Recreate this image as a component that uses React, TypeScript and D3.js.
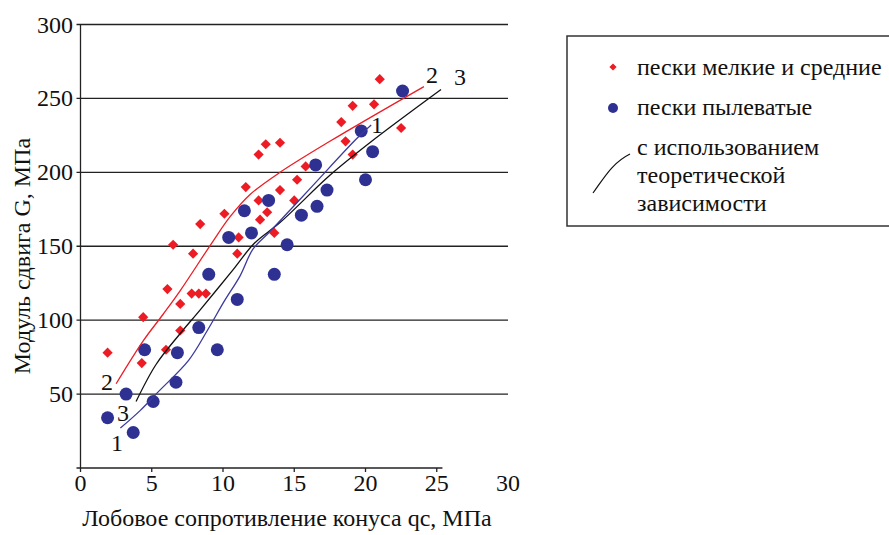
import React from "react";
import * as d3 from "d3";

// песок мелкий и средний (red diamonds)
const sandX = [1.9, 4.3, 4.4, 6.0, 6.1, 6.5, 7.0, 7.0, 7.9, 7.8, 8.3, 8.8, 8.4, 10.1, 11.0, 11.1, 11.6, 12.5, 13.0, 14.0, 12.5, 12.6, 13.1, 13.6, 14.0, 15.0, 15.2, 15.8, 18.3, 18.6, 19.1, 19.1, 20.6, 21.0, 22.5];
const sandG = [78, 71, 102, 80, 121, 151, 111, 93, 145, 118, 118, 118, 165, 172, 145, 156, 190, 212, 219, 220, 181, 168, 173, 159, 188, 181, 195, 204, 234, 221, 245, 212, 246, 263, 230];

// песок пылеватый (blue circles)
const siltX = [1.9, 3.2, 3.7, 4.5, 5.1, 6.7, 6.8, 8.3, 9.0, 9.6, 10.4, 11.0, 11.5, 12.0, 13.2, 13.6, 14.5, 15.5, 16.5, 16.6, 17.3, 19.7, 20.0, 20.5, 22.6];
const siltG = [34, 50, 24, 80, 45, 58, 78, 95, 131, 80, 156, 114, 174, 159, 181, 131, 151, 171, 205, 177, 188, 228, 195, 214, 255];

// теоретические кривые
const curve1X = [2.8, 4.2, 5.4, 7.6, 8.9, 10.1, 11.2, 12.1, 13.3, 16.3, 19.3, 20.4];
const curve1G = [27, 39, 51, 73, 93, 113, 130, 148, 160, 191, 222, 232];
const curve2X = [2.5, 4.4, 5.8, 7.0, 9.2, 10.5, 11.9, 14.0, 17.5, 24.1];
const curve2G = [57, 86, 104, 120, 152, 170, 185, 200, 221, 258];
const curve3X = [3.9, 5.3, 7.0, 8.4, 10.7, 12.2, 14.0, 17.5, 20.3, 25.3];
const curve3G = [45, 70, 91, 107, 134, 152, 166, 198, 220, 256];

const xTicks = [0, 5, 10, 15, 20, 25, 30];
const yTicks = [50, 100, 150, 200, 250, 300];

const RED = "#ed1c24";
const BLUE = "#2e3192";
const FONT = '"Liberation Serif", "DejaVu Serif", serif';

export default function App() {
  const width = 889;
  const height = 535;
  const x = d3.scaleLinear().domain([0, 30]).range([80.5, 508]);
  const y = d3.scaleLinear().domain([0, 300]).range([468, 24.5]);

  const line = d3
    .line<[number, number]>()
    .x((d) => x(d[0]))
    .y((d) => y(d[1]))
    .curve(d3.curveCatmullRom.alpha(0.5));

  const zip = (a: number[], b: number[]) => a.map((v, i) => [v, b[i]] as [number, number]);
  const diamond = d3.symbol().type(d3.symbolSquare).size(52)();
  const diamondSmall = d3.symbol().type(d3.symbolSquare).size(26)();

  return (
    <svg
      width={width}
      height={height}
      style={{ position: "absolute", left: 0, top: 0, background: "white", fontFamily: FONT }}
    >
      {/* grid */}
      <g>
        {yTicks.map((t) => (
          <line key={t} x1={x(0) - 4} x2={x(30)} y1={y(t)} y2={y(t)} stroke="#222" strokeWidth={1.3} />
        ))}
        {yTicks.map((t) => (
          <text key={"l" + t} x={73} y={y(t) + 8} fontSize={24} textAnchor="end" fill="#111">
            {t}
          </text>
        ))}
      </g>
      {/* axes */}
      <line x1={x(0)} x2={x(0)} y1={y(300)} y2={y(0)} stroke="#222" strokeWidth={1.3} />
      <line x1={x(0) - 4} x2={x(25.4)} y1={y(0)} y2={y(0)} stroke="#222" strokeWidth={1.3} />
      {xTicks.slice(0, 6).map((t) => (
        <line key={"t" + t} x1={x(t)} x2={x(t)} y1={y(0)} y2={y(0) + 4} stroke="#222" strokeWidth={1.3} />
      ))}
      {xTicks.map((t) => (
        <text key={"x" + t} x={x(t)} y={491} fontSize={24} textAnchor="middle" fill="#111">
          {t}
        </text>
      ))}
      <text x={287} y={526} fontSize={24} textAnchor="middle" fill="#111">
        Лобовое сопротивление конуса qc, МПа
      </text>
      <text transform={`translate(30, 256) rotate(-90)`} fontSize={24} textAnchor="middle" fill="#111">
        Модуль сдвига G, МПа
      </text>

      {/* points */}
      {sandX.map((v, i) => (
        <path
          key={"s" + i}
          d={diamond!}
          transform={`translate(${x(v)},${y(sandG[i])}) rotate(45)`}
          fill={RED}
        />
      ))}
      {siltX.map((v, i) => (
        <circle key={"c" + i} cx={x(v)} cy={y(siltG[i])} r={6.5} fill={BLUE} />
      ))}

      {/* curves */}
      <path d={line(zip(curve2X, curve2G))!} fill="none" stroke={RED} strokeWidth={1.3} />
      <path d={line(zip(curve3X, curve3G))!} fill="none" stroke="#111" strokeWidth={1.3} />
      <path d={line(zip(curve1X, curve1G))!} fill="none" stroke="#3a3a9e" strokeWidth={1.3} />

      {/* curve numbers */}
      <g fontSize={24} fill="#111" textAnchor="middle">
        <text x={107} y={390}>2</text>
        <text x={123} y={421}>3</text>
        <text x={117} y={451}>1</text>
        <text x={432} y={83}>2</text>
        <text x={460} y={85}>3</text>
        <text x={377} y={133}>1</text>
      </g>

      {/* legend */}
      <rect x={567} y={36} width={340} height={190} fill="white" stroke="#333" strokeWidth={1.5} />
      <path d={diamondSmall!} transform="translate(613,67) rotate(45)" fill={RED} />
      <circle cx={613} cy={108} r={5} fill={BLUE} />
      <path d="M593,193 C604,178 612,163 630,154" fill="none" stroke="#111" strokeWidth={1.2} />
      <g fontSize={24} fill="#111">
        <text x={637} y={75}>пески мелкие и средние</text>
        <text x={637} y={115}>пески пылеватые</text>
        <text x={637} y={155}>с использованием</text>
        <text x={637} y={183}>теоретической</text>
        <text x={637} y={211}>зависимости</text>
      </g>
    </svg>
  );
}
